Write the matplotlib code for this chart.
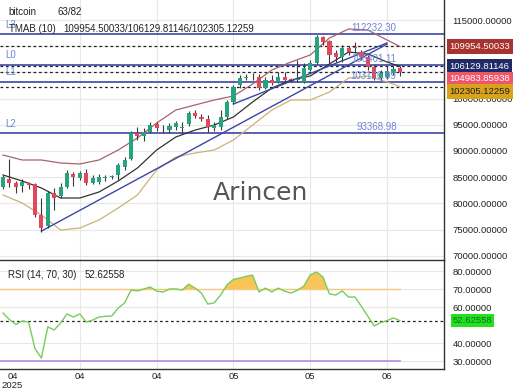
import matplotlib
matplotlib.use("Agg")
import matplotlib.pyplot as plt
import matplotlib.transforms as mtransforms

plt.rcParams['font.family'] = ['Liberation Sans', 'DejaVu Sans']

# ---- data ----
opens = [83120, 84647, 83883, 83311, 83883, 83692, 77774, 75675, 81974, 81402,
         83120, 85601, 84838, 85792, 83883, 84074, 84838, 85029, 85411, 86938,
         88465, 93428, 92856, 93619, 95146, 94383, 94000, 94574, 94383, 95146,
         97246, 96483, 96101, 94383, 94574, 96483, 99346, 102592, 103928, 104119,
         104119, 102019, 103546, 103164, 104119, 103546, 103546, 103164, 105455, 106791,
         111755, 110991, 108700, 107937, 109655, 109846, 108891, 107937, 106028, 103928,
         104119, 104882, 105837]
highs = [85411, 88465, 84265, 84647, 84074, 83883, 81020, 82356, 82929, 83883,
         86365, 85983, 86174, 86556, 85411, 85601, 85411, 85411, 87701, 88847,
         93810, 94574, 94383, 95528, 95528, 94955, 95337, 95719, 95528, 97628,
         97819, 97055, 96865, 95528, 97819, 99728, 102592, 104500, 104691, 104882,
         104691, 104119, 104500, 105073, 105073, 103928, 107364, 106791, 107364, 112137,
         111946, 111182, 109273, 110228, 110037, 110800, 109273, 108319, 106410, 105455,
         106219, 106219, 106219]
lows = [82738, 83120, 81974, 82165, 82738, 77393, 74600, 75293, 78729, 81020,
        82929, 83311, 84456, 83502, 83692, 83692, 84265, 84647, 84456, 86365,
        88274, 92092, 91901, 93428, 93810, 93428, 93428, 94000, 93428, 94765,
        96292, 95719, 93619, 93810, 94000, 96101, 98964, 102019, 103546, 103546,
        101637, 101828, 102592, 102973, 103355, 103164, 103164, 102973, 105264, 106600,
        110228, 106791, 106982, 106982, 108319, 108700, 107364, 105455, 103546, 103546,
        103737, 104500, 104310]
closes = [85029, 83883, 83120, 84074, 83502, 77774, 75293, 81974, 81020, 83120,
          85792, 85029, 85792, 83883, 84838, 85029, 84900, 85150, 87319, 88274,
          93428, 92856, 93619, 94955, 94383, 94300, 94765, 95337, 94450, 97246,
          96674, 96101, 94574, 94955, 96483, 99346, 102210, 103928, 104000, 104050,
          102019, 103546, 102973, 104119, 103546, 103500, 103600, 105837, 106791, 111755,
          110800, 108319, 107937, 109655, 108891, 109750, 107937, 106028, 103928, 104882,
          105264, 105646, 104984]

band_idx = [0, 3, 6, 9, 12, 15, 18, 21, 24, 27, 30, 33, 36, 39, 42, 45, 48, 51, 54, 57, 60, 62]
band_upper = [89228, 88274, 88274, 87701, 87510, 88274, 90183, 92474, 95337, 97819, 98774,
              99728, 100492, 102782, 105455, 106982, 108319, 111564, 113282, 113091, 111182, 109954.5]
band_mid = [85411, 84265, 82929, 81020, 81020, 82165, 84265, 86747, 90183, 92665, 93981,
            94955, 96483, 99346, 102019, 103546, 104310, 106600, 108891, 108509, 106982, 106129.8]
band_lower = [81593, 80066, 77774, 74911, 75293, 76820, 79111, 81593, 86365, 88847, 89610,
              90183, 92092, 94955, 97819, 99728, 99728, 101255, 103928, 104310, 103164, 102305.1]

trend_a_x = [6, 60]
trend_a_y = [74700, 110400]
trend_b_x = [36, 60]
trend_b_y = [98964, 110609]

levels = {"L3": 112232.30, "L0": 106401.11, "L1": 103126.09, "L2": 93368.98}
tmab = [109954.50033, 106129.81146, 102305.12259]
last_price = 104983.85938

rsi = [56.8, 53.2, 50.5, 52.4, 51.8, 37.0, 31.8, 49.1, 47.4, 51.3,
       56.3, 54.6, 56.3, 51.8, 52.9, 54.6, 55.0, 55.2, 59.6, 62.4,
       69.6, 69.1, 70.2, 71.3, 69.0, 68.5, 70.2, 70.2, 69.6, 72.9,
       70.7, 67.9, 61.8, 62.5, 66.8, 72.5, 75.5, 76.3, 77.2, 77.9,
       68.5, 70.7, 68.5, 70.7, 69.0, 67.9, 69.5, 71.8, 78.0, 79.6,
       76.8, 67.4, 66.8, 69.1, 65.7, 65.7, 60.5, 55.0, 49.6, 51.5,
       52.6, 54.1, 52.62558]
rsi_last = 52.62558

xtick_pos = [1.5, 12, 24, 36, 48, 60]
xtick_lab = ["04\n2025", "04", "04", "05", "05", "06"]

# ---- styling ----
GREEN = "#26a37f"
RED = "#e2475a"
BLUE = "#3d45a6"
LBLUE = "#6f86d6"

fig = plt.figure(figsize=(5.2, 3.9), dpi=100)
ax = fig.add_axes([0, 130 / 390, 444 / 520, 260 / 390])
ax2 = fig.add_axes([0, 21 / 390, 444 / 520, 109 / 390])

xmin, xmax = -0.47, 68.9
for a in (ax, ax2):
    a.set_xlim(xmin, xmax)
    a.yaxis.tick_right()
    a.tick_params(axis="y", length=0, labelsize=6.8, pad=6, colors="#222")
    a.tick_params(axis="x", length=0)
    a.spines["left"].set_visible(False)
    for s in ("right", "top", "bottom"):
        a.spines[s].set_color("#333")
        a.spines[s].set_linewidth(1.0)
    a.set_xticks([12, 24, 36, 48, 60])
    a.grid(True, color="#e8e8e8", linewidth=0.8)
    a.set_axisbelow(True)

ax.spines["top"].set_visible(False)
ax.spines["bottom"].set_visible(False)
ax.set_ylim(69184, 118818)
ax.set_yticks(range(70000, 120000, 5000))
ax.set_yticklabels(["%.5f" % v for v in range(70000, 120000, 5000)])
ax.set_xticklabels([])

# bands
ax.plot(band_idx, band_upper, color="#a8626a", lw=0.9, zorder=2)
ax.plot(band_idx, band_mid, color="#333333", lw=0.9, zorder=2)
ax.plot(band_idx, band_lower, color="#c9b378", lw=0.9, zorder=2)

# level lines
for name, v in levels.items():
    ax.axhline(v, color=BLUE, lw=1.2, zorder=1)
    ax.text(0.3, v + 900, name, color=LBLUE, fontsize=7, va="bottom", ha="left")
    ax.text(61.5, v + 250, "%.2f" % v, color=LBLUE, fontsize=7, va="bottom", ha="right", zorder=6)
for v in tmab + [last_price]:
    ax.axhline(v, color="#222", lw=0.9, ls=(0, (2.2, 2.2)), zorder=1)

# trend lines
ax.plot(trend_a_x, trend_a_y, color=BLUE, lw=1.0, zorder=2)
ax.plot(trend_b_x, trend_b_y, color=BLUE, lw=1.0, zorder=2)

# candles
for i in range(len(opens)):
    o, h, l, c = opens[i], highs[i], lows[i], closes[i]
    col = GREEN if c >= o else RED
    ax.vlines(i, l, h, color="#3a3a3a", lw=0.8, zorder=3)
    lo, hi = min(o, c), max(o, c)
    if hi - lo < 150:
        hi = lo + 150
    ax.bar(i, hi - lo, bottom=lo, width=0.65, color=col, zorder=4, linewidth=0)

# watermark
ax.text(260 / 444, 0.258, "Arincen", transform=ax.transAxes, fontsize=18, color="#555555",
        ha="center", va="center", family="DejaVu Sans")

# header
fig.text(8 / 520, 1 - 12 / 390, "bitcoin", fontsize=7, va="center", color="#222")
fig.text(58 / 520, 1 - 12 / 390, "63/82", fontsize=7, va="center", color="#222")
fig.text(9 / 520, 1 - 29 / 390, "TMAB (10)", fontsize=7, va="center", color="#222")
fig.text(63 / 520, 1 - 29 / 390, "/".join("%.5f" % v for v in tmab), fontsize=7,
         va="center", color="#222")

# right price boxes (stacked so they do not overlap)
trans = mtransforms.blended_transform_factory(ax.transAxes, ax.transData)
boxes = [(tmab[0], "#a8322f", "white"), (tmab[1], "#1f2a66", "white"),
         (last_price, "#f0566a", "white"), (tmab[2], "#d9a21b", "#222")]
gap = 2390
prev = None
for v, bg, fg in boxes:
    y = v if prev is None else min(v, prev - gap)
    prev = y
    ax.text(1.013, y, "%.5f" % v, transform=trans, fontsize=6.8, color=fg, va="center",
            ha="left", bbox=dict(boxstyle="square,pad=0.3", fc=bg, ec="none"), zorder=10,
            clip_on=False)

# ---- RSI ----
ax2.set_ylim(25.7, 86.3)
ax2.set_yticks([30, 40, 60, 70, 80])
ax2.set_yticklabels(["%.5f" % v for v in [30, 40, 60, 70, 80]])
ax2.axhline(70, xmax=(62 - xmin) / (xmax - xmin), color="#f6c77c", lw=1.0)
ax2.axhline(30, xmax=(62 - xmin) / (xmax - xmin), color="#b48ae0", lw=1.2)
ax2.axhline(rsi_last, color="#222", lw=0.9, ls=(0, (2.2, 2.2)))
xs = list(range(len(rsi)))
ax2.fill_between(xs, 70, rsi, where=[r > 70 for r in rsi], interpolate=True,
                 color="#f7c55a", lw=0)
ax2.plot(xs, rsi, color="#79cc5a", lw=1.0, zorder=3)
ax2.text(0.018, 0.86, "RSI (14, 70, 30)", transform=ax2.transAxes, fontsize=7, color="#222",
         va="center")
ax2.text(85 / 444, 0.86, "%.5f" % rsi_last, transform=ax2.transAxes, fontsize=7,
         color="#222", va="center")
t2 = mtransforms.blended_transform_factory(ax2.transAxes, ax2.transData)
ax2.text(1.02, rsi_last, "%.5f" % rsi_last, transform=t2, fontsize=6.8, color="#1a6a1a",
         va="center", ha="left", bbox=dict(boxstyle="square,pad=0.18", fc="#22e022", ec="none"),
         clip_on=False, zorder=10)
ax2.set_xticks(xtick_pos)
ax2.set_xticklabels(xtick_lab, fontsize=6.8, color="#222", va="top", linespacing=1.0)
ax2.tick_params(axis="x", pad=2)
ax2.xaxis.get_gridlines()[0].set_visible(False)

fig.savefig("out.png", dpi=100)
